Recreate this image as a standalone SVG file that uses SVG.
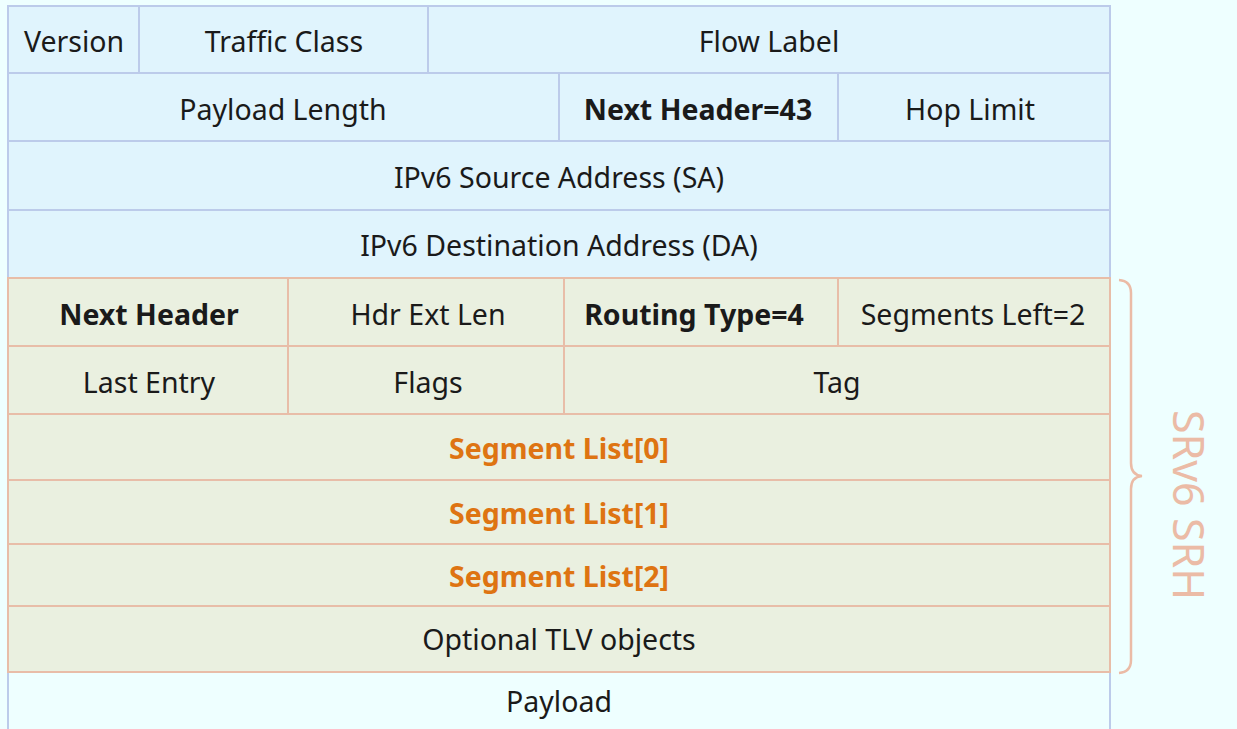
<svg xmlns="http://www.w3.org/2000/svg" width="1237" height="729" viewBox="0 0 1237 729">
  <style>
    .v6 { fill: #E0F4FD; stroke: #BCCBEA; stroke-width: 2; }
    .srh { fill: #EAF0E0; stroke: #E8BDA8; stroke-width: 2; }
    .pl { fill: #EEFFFF; stroke: #BCCBEA; stroke-width: 2; }
    text { font-family: "Noto Sans", "Open Sans", sans-serif; font-size: 28.5px; fill: #1A1A1A; text-anchor: middle; dominant-baseline: central; }
    .b { font-weight: bold; }
    .seg { font-weight: bold; fill: #DE7412; }
    .lbl { font-size: 43px; fill: #EBBBA6; }
  </style>
  <rect x="0" y="0" width="1237" height="729" fill="#EEFFFF"/>

  <!-- IPv6 basic header -->
  <g id="ipv6-row1">
    <rect class="v6" x="8" y="6" width="131" height="67"/>
    <rect class="v6" x="139" y="6" width="289" height="67"/>
    <rect class="v6" x="428" y="6" width="682" height="67"/>
    <text x="74" y="41">Version</text>
    <text x="284" y="41">Traffic Class</text>
    <text x="769" y="41">Flow Label</text>
  </g>
  <g id="ipv6-row2">
    <rect class="v6" x="8" y="73" width="551" height="68"/>
    <rect class="v6" x="559" y="73" width="279" height="68"/>
    <rect class="v6" x="838" y="73" width="272" height="68"/>
    <text x="283" y="109">Payload Length</text>
    <text class="b" x="698" y="109">Next Header=43</text>
    <text x="970" y="109">Hop Limit</text>
  </g>
  <g id="ipv6-sa">
    <rect class="v6" x="8" y="141" width="1102" height="69"/>
    <text x="559" y="177">IPv6 Source Address (SA)</text>
  </g>
  <g id="ipv6-da">
    <rect class="v6" x="8" y="210" width="1102" height="68"/>
    <text x="559" y="245">IPv6 Destination Address (DA)</text>
  </g>

  <!-- Payload -->
  <g id="payload">
    <rect class="pl" x="8" y="672" width="1102" height="70"/>
    <text x="559" y="701">Payload</text>
  </g>

  <!-- Segment Routing Header -->
  <g id="srh-row1">
    <rect class="srh" x="8" y="278" width="280" height="68"/>
    <rect class="srh" x="288" y="278" width="276" height="68"/>
    <rect class="srh" x="564" y="278" width="274" height="68"/>
    <rect class="srh" x="838" y="278" width="272" height="68"/>
    <text class="b" x="149" y="314">Next Header</text>
    <text x="428" y="314">Hdr Ext Len</text>
    <text class="b" x="694" y="314">Routing Type=4</text>
    <text x="973" y="314">Segments Left=2</text>
  </g>
  <g id="srh-row2">
    <rect class="srh" x="8" y="346" width="280" height="68"/>
    <rect class="srh" x="288" y="346" width="276" height="68"/>
    <rect class="srh" x="564" y="346" width="546" height="68"/>
    <text x="149" y="382">Last Entry</text>
    <text x="428" y="382">Flags</text>
    <text x="837" y="382">Tag</text>
  </g>
  <g id="segment-list-0">
    <rect class="srh" x="8" y="414" width="1102" height="66"/>
    <text class="seg" x="559" y="448">Segment List[0]</text>
  </g>
  <g id="segment-list-1">
    <rect class="srh" x="8" y="480" width="1102" height="64"/>
    <text class="seg" x="559" y="513">Segment List[1]</text>
  </g>
  <g id="segment-list-2">
    <rect class="srh" x="8" y="544" width="1102" height="62"/>
    <text class="seg" x="559" y="576">Segment List[2]</text>
  </g>
  <g id="tlv">
    <rect class="srh" x="8" y="606" width="1102" height="66"/>
    <text x="559" y="639">Optional TLV objects</text>
  </g>

  <!-- Brace spanning the SRH -->
  <g id="srh-brace">
    <path d="M1119,280 Q1131,281 1131,293 L1131,463 Q1131,475 1142,476 Q1131,477 1131,489 L1131,660 Q1131,672 1119,673" fill="none" stroke="#EBBBA6" stroke-width="2.5"/>
    <text class="lbl" transform="translate(1189,505) rotate(90)">SRv6 SRH</text>
  </g>
</svg>
